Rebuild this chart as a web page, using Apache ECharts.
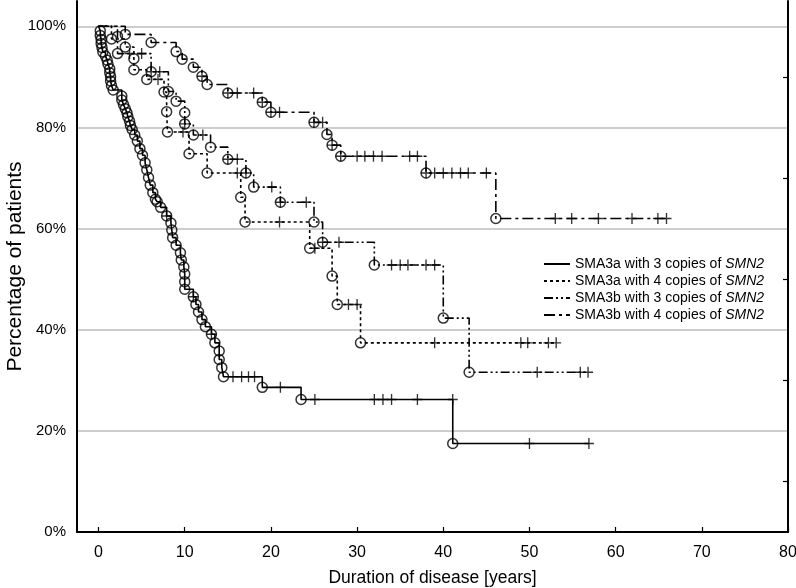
<!DOCTYPE html>
<html><head><meta charset="utf-8">
<script src="https://cdn.jsdelivr.net/npm/echarts@6/dist/echarts.min.js"></script>
<style>html,body{margin:0;padding:0;background:#fff}#c{width:796px;height:588px}</style>
</head><body><div id="c"></div>
<script>
// ---------- data ----------
const seriesNames = [
  'SMA3a with 3 copies of SMN2',
  'SMA3a with 4 copies of SMN2',
  'SMA3b with 3 copies of SMN2',
  'SMA3b with 4 copies of SMN2'
];
const xTicks = [0, 10, 20, 30, 40, 50, 60, 70, 80];
const yTicks = [0, 20, 40, 60, 80, 100];

// SMA3a, 3 copies (solid) : events [time, survival %]
const a3Events = [
  [0.2,99.1],[0.2,98.2],[0.3,97.4],[0.3,96.6],[0.4,95.8],[0.5,94.9],[0.8,94.1],[1.0,93.3],
  [1.1,92.5],[1.3,91.6],[1.3,90.8],[1.4,90.0],[1.4,89.2],[1.5,88.3],[1.7,87.4],
  [2.7,86.2],[2.7,85.4],[2.9,84.5],[3.1,83.7],[3.3,82.9],[3.4,82.1],[3.6,81.2],[3.7,80.4],[3.9,79.6],
  [4.2,78.5],[4.5,77.3],[4.8,75.8],[5.1,74.5],[5.4,73.0],[5.6,71.6],[5.8,70.1],[6.0,68.6],[6.3,67.1],[6.6,65.8],
  [6.8,65.3],[7.2,64.2],[7.9,62.5],[8.4,61.1],[8.5,59.7],[8.6,58.2],[9.0,56.7],[9.5,55.2],[9.6,53.8],
  [9.9,52.4],[10.0,51.0],[10.0,49.5],[10.0,48.0],[11.0,46.5],[11.3,45.0],[11.6,43.5],[12.0,42.0],
  [12.4,40.6],[13.1,39.1],[13.5,37.4],[14.0,35.8],[14.0,34.1],[14.3,32.5],[14.5,30.7],
  [19.0,28.6],[23.5,26.2],[41.1,17.5]
];
const a3Censored = [
  [7.9,62.5],[11.0,46.5],[13.1,39.1],[15.6,30.7],[16.6,30.7],[17.4,30.7],[18.1,30.7],
  [21.1,28.6],[25.1,26.2],[32.0,26.2],[33.0,26.2],[34.0,26.2],[37.0,26.2],[41.1,26.2],
  [50.0,17.5],[56.9,17.5]
];

// SMA3a, 4 copies (short dashes)
const a4Events = [
  [1.5,97.5],[3.1,95.9],[4.1,93.6],[4.1,91.4],[5.6,89.5],[7.6,87.0],[7.9,83.1],[8.0,79.1],
  [10.5,74.8],[12.6,71.0],[16.5,66.2],[17.0,61.3],[24.5,56.1],[27.1,50.6],[27.7,45.0],[30.4,37.4]
];
const a4Censored = [
  [6.9,89.5],[9.8,79.1],[16.1,71.0],[21.0,61.3],[25.1,56.1],[29.0,45.0],[30.0,45.0],
  [39.0,37.4],[49.0,37.4],[49.8,37.4],[52.2,37.4],[53.1,37.4]
];

// SMA3b, 3 copies (dash-dot)
const b3Events = [
  [2.2,98.0],[2.2,94.6],[6.1,91.0],[8.1,87.1],[9.0,85.2],[10.0,82.9],[10.0,80.7],[11.0,78.5],
  [13.0,76.1],[15.0,73.7],[17.1,71.0],[18.0,68.2],[21.1,65.2],[25.0,61.3],[26.0,57.3],
  [32.0,52.8],[40.0,42.3],[43.0,31.6]
];
const b3Censored = [
  [3.6,94.6],[5.0,94.6],[6.1,91.0],[7.1,91.0],[10.0,80.7],[12.1,78.5],[15.0,73.7],[16.1,73.7],
  [17.1,71.0],[20.1,68.2],[21.1,65.2],[24.1,65.2],[26.0,57.3],[27.9,57.3],
  [34.0,52.8],[35.0,52.8],[35.9,52.8],[38.0,52.8],[39.0,52.8],
  [50.9,31.6],[55.9,31.6],[56.8,31.6]
];

// SMA3b, 4 copies (long dash - short dash)
const b4Events = [
  [3.1,98.4],[6.1,96.8],[9.0,95.0],[9.7,93.5],[11.0,91.9],[12.0,90.1],[12.6,88.5],[15.0,86.8],
  [19.0,85.0],[20.0,83.0],[25.0,81.0],[26.5,78.6],[27.1,76.5],[28.1,74.3],[38.0,71.0],[46.1,62.0]
];
const b4Censored = [
  [12.0,90.1],[15.0,86.8],[16.1,86.8],[18.0,86.8],[19.0,85.0],[20.0,83.0],[21.0,83.0],
  [25.0,81.0],[26.0,81.0],[27.1,76.5],[28.1,74.3],[30.0,74.3],[30.9,74.3],[31.9,74.3],[32.9,74.3],
  [36.1,74.3],[37.0,74.3],[38.0,71.0],[39.0,71.0],[40.0,71.0],[41.0,71.0],[42.0,71.0],[42.9,71.0],[45.0,71.0],
  [53.0,62.0],[54.9,62.0],[58.0,62.0],[61.9,62.0],[64.9,62.0],[65.9,62.0]
];

// ---------- build ----------
const groups = [
  {name: seriesNames[0], ev: a3Events, ce: a3Censored, dash: 'solid'},
  {name: seriesNames[1], ev: a4Events, ce: a4Censored, dash: [3, 3]},
  {name: seriesNames[2], ev: b3Events, ce: b3Censored, dash: [9, 3, 2, 3, 2, 3]},
  {name: seriesNames[3], ev: b4Events, ce: b4Censored, dash: [11, 4, 3, 4]}
];
function stepData(ev, ce) {
  const pts = [[0, 100]].concat(ev);
  let endT = 0;
  ce.concat(ev).forEach(p => { if (p[0] > endT) endT = p[0]; });
  const last = pts[pts.length - 1];
  if (endT > last[0]) pts.push([endT, last[1]]);
  return pts;
}
const plusPath = 'path://M5,0L5,10M0,5L10,5';
const series = [];
groups.forEach(g => {
  series.push({
    name: g.name, type: 'line', step: 'end', data: stepData(g.ev, g.ce),
    symbol: 'none', lineStyle: {color: '#000', width: 1.6, type: g.dash},
    itemStyle: {color: '#000'}, z: 2, animation: false
  });
  series.push({
    type: 'scatter', data: g.ev, symbol: 'circle', symbolSize: 10,
    itemStyle: {color: 'rgba(0,0,0,0)', borderColor: '#000', borderWidth: 1.5},
    z: 3, animation: false, silent: true
  });
  series.push({
    type: 'scatter', data: g.ce, symbol: plusPath, symbolSize: [10, 11],
    itemStyle: {color: 'rgba(0,0,0,0)', borderColor: '#000', borderWidth: 1.4},
    z: 3, animation: false, silent: true
  });
});

const chart = echarts.init(document.getElementById('c'), null, {renderer: 'canvas'});
chart.setOption({
  backgroundColor: '#fff',
  animation: false,
  grid: {left: 77, right: 8, top: 1, bottom: 56, containLabel: false, outerBoundsMode: 'none'},
  legend: {
    data: seriesNames, orient: 'vertical', left: 538, top: 252, itemWidth: 26, itemHeight: 12, itemGap: 3,
    itemStyle: {opacity: 0},
    formatter: n => n.replace('SMN2', '{i|SMN2}'),
    textStyle: {fontFamily: 'Liberation Sans, Arial, sans-serif', fontSize: 14, color: '#000',
      rich: {i: {fontStyle: 'italic', fontFamily: 'Liberation Sans, Arial, sans-serif', fontSize: 14, color: '#000'}}}
  },
  xAxis: {
    type: 'value', min: -2.5, max: 80,
    name: 'Duration of disease [years]', nameLocation: 'middle', nameGap: 37, nameMoveOverlap: false,
    nameTextStyle: {fontFamily: 'Liberation Sans Narrow, Liberation Sans, sans-serif', fontSize: 17.5, color: '#000'},
    axisLine: {show: true, onZero: false, lineStyle: {color: '#000', width: 2}},
    axisTick: {show: true, inside: true, length: 5, customValues: xTicks, lineStyle: {color: '#000', width: 1.2}},
    axisLabel: {customValues: xTicks, margin: 13, fontSize: 16, color: '#000',
      fontFamily: 'Liberation Sans Narrow, Liberation Sans, sans-serif'},
    splitLine: {show: false}
  },
  yAxis: [{
    type: 'value', min: 0, max: 105, interval: 20, position: 'left',
    name: 'Percentage of patients', nameLocation: 'middle', nameGap: 51, nameRotate: 90, nameMoveOverlap: false,
    nameTextStyle: {fontFamily: 'Liberation Sans Narrow, Liberation Sans, sans-serif', fontSize: 21, color: '#000'},
    axisLine: {show: true, onZero: false, lineStyle: {color: '#000', width: 2}},
    axisTick: {show: false},
    axisLabel: {customValues: yTicks, formatter: '{value}%', margin: 11, fontSize: 15, color: '#000',
      fontFamily: 'Liberation Sans, Arial, sans-serif'},
    splitLine: {show: true, showMaxLine: false, lineStyle: {color: '#bdbdbd', width: 1.5}}
  }, {
    type: 'value', min: 0, max: 105, position: 'right',
    axisLine: {show: true, onZero: false, lineStyle: {color: '#000', width: 2}},
    axisTick: {show: true, inside: true, length: 5, customValues: [10, 30, 50, 70, 90], lineStyle: {color: '#000', width: 1.2}},
    axisLabel: {show: false},
    splitLine: {show: false}
  }],
  series: series
});
</script>
</body></html>
